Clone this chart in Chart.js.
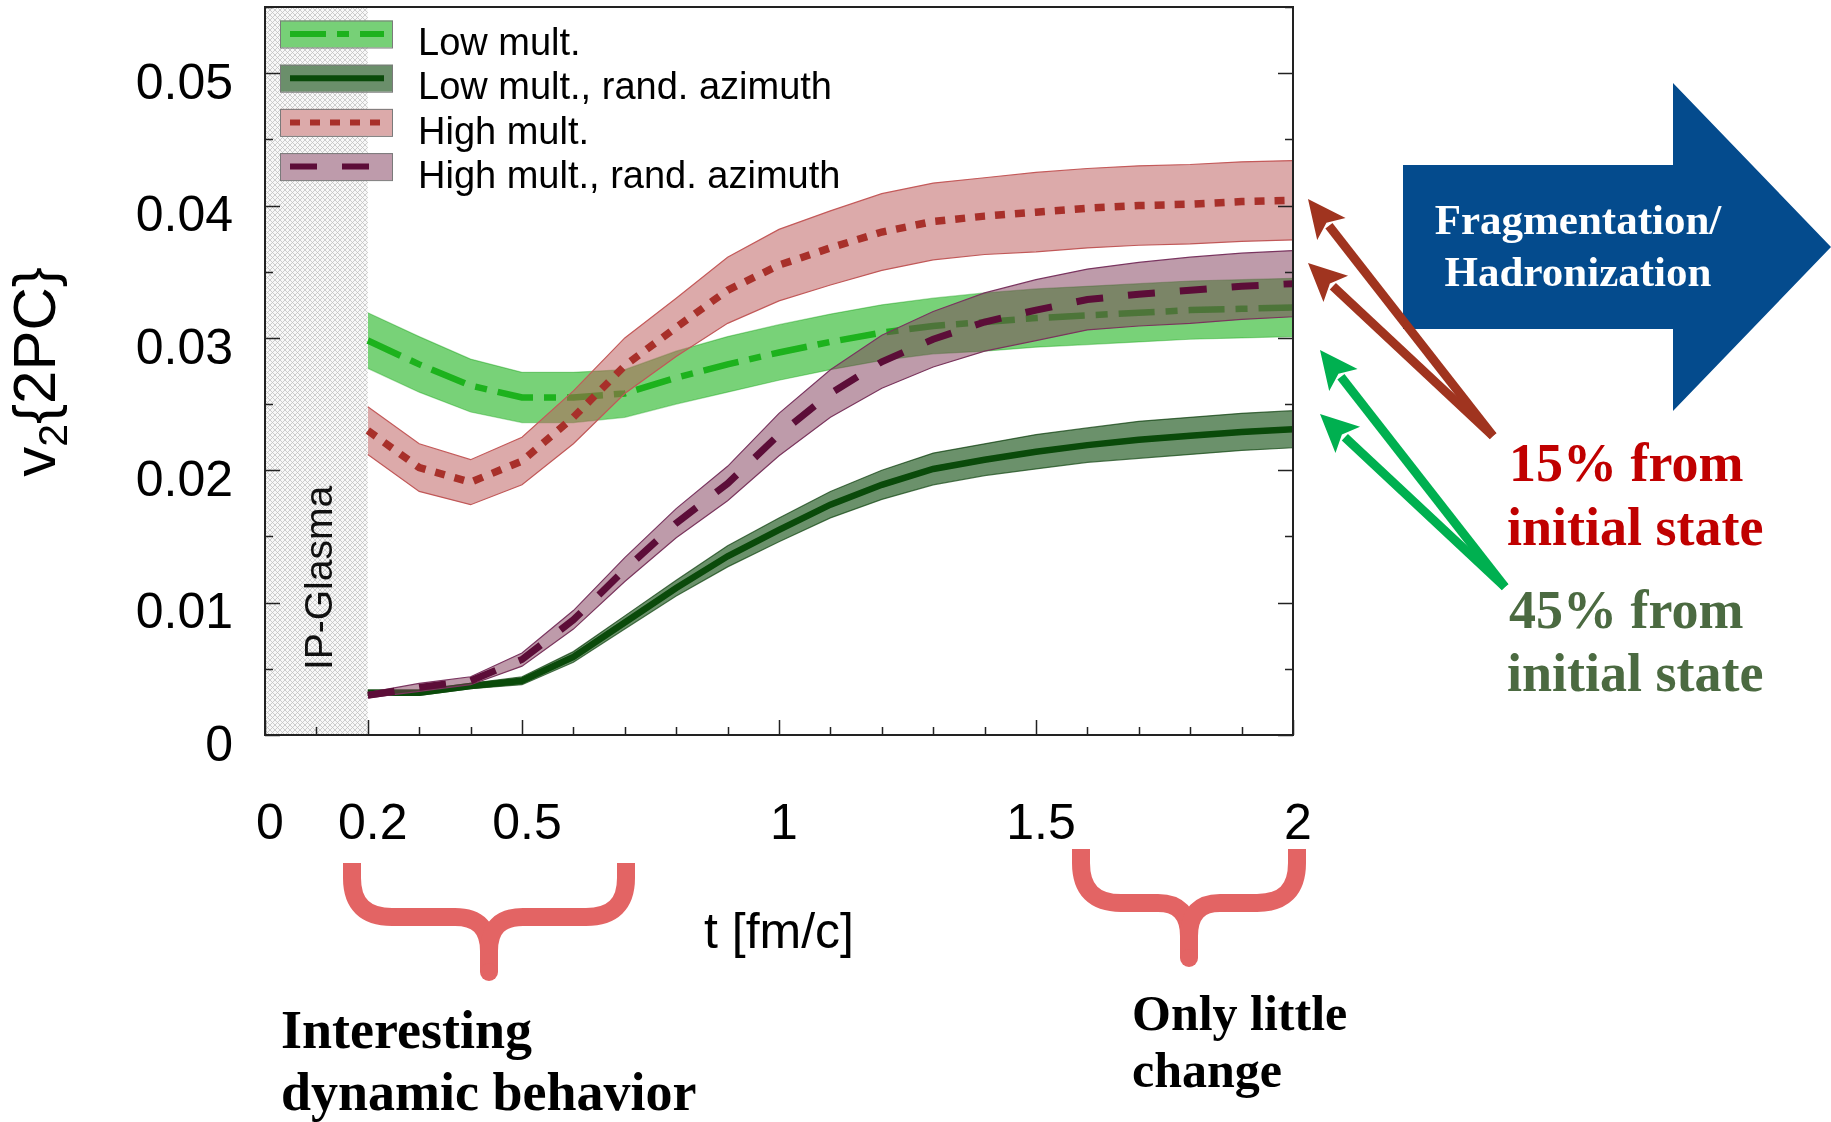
<!DOCTYPE html>
<html>
<head>
<meta charset="utf-8">
<title>v2{2PC} time evolution</title>
<script src="https://cdn.jsdelivr.net/npm/chart.js@4.4.1/dist/chart.umd.min.js"></script>
<style>
  body { margin: 0; background: #fff; }
  #wrap { position: relative; width: 1831px; height: 1122px; overflow: hidden; }
  #v2chart, #notes { position: absolute; left: 0; top: 0; }
  .serif { font-family: 'Liberation Serif', 'DejaVu Serif', serif; font-weight: bold; }
</style>
</head>
<body>
<div id="wrap">
  <canvas id="v2chart" width="1831" height="1122"></canvas>
  <svg id="notes" width="1831" height="1122">
    <!-- hadronization arrow -->
    <polygon points="1403,165 1673,165 1673,83 1831,247 1673,411 1673,329 1403,329" fill="#044b8d"/>
    <text class="serif" x="1578" y="234" text-anchor="middle" fill="#fff" font-size="43">Fragmentation/</text>
    <text class="serif" x="1578" y="286" text-anchor="middle" fill="#fff" font-size="43">Hadronization</text>

    <g id="pointers"></g>

    <text class="serif" x="1509" y="481" fill="#c00000" font-size="54">15% from</text>
    <text class="serif" x="1507" y="545" fill="#c00000" font-size="54">initial state</text>
    <text class="serif" x="1509" y="628" fill="#4b6a41" font-size="54">45% from</text>
    <text class="serif" x="1507" y="691" fill="#4b6a41" font-size="54">initial state</text>

    <!-- braces under the time axis -->
    <g fill="none" stroke="#e36464" stroke-width="18" stroke-linejoin="round">
      <path d="M352,863 L352,878 Q352,917 392,917 L455,917 Q489,917 489,951 L489,972"/>
      <path d="M626,863 L626,878 Q626,917 586,917 L523,917 Q489,917 489,951"/>
      <path d="M1081,849 L1081,863 Q1081,903 1121,903 L1158,903 Q1189,903 1189,936 L1189,958"/>
      <path d="M1297,849 L1297,863 Q1297,903 1257,903 L1220,903 Q1189,903 1189,936"/>
    </g>
    <circle cx="489" cy="972" r="9" fill="#e36464"/>
    <circle cx="1189" cy="958" r="9" fill="#e36464"/>

    <text class="serif" x="281" y="1048" fill="#000" font-size="54">Interesting</text>
    <text class="serif" x="281" y="1110" fill="#000" font-size="54">dynamic behavior</text>
    <text class="serif" x="1132" y="1030" fill="#000" font-size="50">Only little</text>
    <text class="serif" x="1132" y="1087" fill="#000" font-size="50">change</text>
  </svg>
</div>
<script>
// time after the collision, fm/c
const tValues = [0.2, 0.3, 0.4, 0.5, 0.6, 0.7, 0.8, 0.9, 1.0, 1.1, 1.2, 1.3, 1.4, 1.5, 1.6, 1.7, 1.8, 1.9, 2.0];

// v2{2PC} and half widths of the uncertainty bands
const lowMult = [0.0298, 0.0280, 0.0264, 0.0255, 0.0255, 0.0258, 0.0270, 0.0280, 0.0289, 0.0297, 0.0304, 0.0309, 0.0312, 0.0315, 0.0317, 0.0319, 0.0321, 0.0322, 0.0323];
const lowMultErr = [0.0021, 0.0021, 0.0020, 0.0019, 0.0019, 0.0018, 0.0020, 0.0021, 0.0021, 0.0021, 0.0021, 0.0021, 0.0022, 0.0022, 0.0022, 0.0022, 0.0022, 0.0022, 0.0022];

const lowMultRand = [0.0032, 0.0032, 0.0037, 0.0041, 0.0059, 0.0085, 0.0111, 0.0135, 0.0155, 0.0174, 0.0189, 0.0201, 0.0208, 0.0214, 0.0219, 0.0223, 0.0226, 0.0229, 0.0231];
const lowMultRandErr = [0.0002, 0.0002, 0.0002, 0.0003, 0.0004, 0.0005, 0.0006, 0.0008, 0.0009, 0.0010, 0.0011, 0.0012, 0.0012, 0.0013, 0.0013, 0.0014, 0.0014, 0.0014, 0.0014];

const highMult = [0.0230, 0.0202, 0.0191, 0.0207, 0.0240, 0.0279, 0.0308, 0.0336, 0.0355, 0.0368, 0.0380, 0.0388, 0.0392, 0.0395, 0.0398, 0.0400, 0.0401, 0.0403, 0.0404];
const highMultErr = [0.0018, 0.0018, 0.0017, 0.0018, 0.0020, 0.0021, 0.0022, 0.0025, 0.0027, 0.0028, 0.0029, 0.0029, 0.0029, 0.0030, 0.0030, 0.0030, 0.0030, 0.0030, 0.0030];

const highMultRand = [0.0030, 0.0036, 0.0041, 0.0057, 0.0087, 0.0125, 0.0160, 0.0190, 0.0227, 0.0258, 0.0282, 0.0299, 0.0312, 0.0321, 0.0329, 0.0333, 0.0336, 0.0339, 0.0341];
const highMultRandErr = [0.0002, 0.0003, 0.0003, 0.0005, 0.0007, 0.0009, 0.0011, 0.0013, 0.0016, 0.0018, 0.0020, 0.0021, 0.0022, 0.0023, 0.0023, 0.0024, 0.0025, 0.0025, 0.0025];

const xTickValues = [0, 0.2, 0.5, 1, 1.5, 2];
const yTickValues = [0, 0.01, 0.02, 0.03, 0.04, 0.05];
const glasmaEnd = 0.2;   // IP-Glasma stage, before the hydro curves start

const SANS = "'Liberation Sans', Arial, sans-serif";

// drawn bottom to top
const series = [
  { label: 'Low mult.', values: lowMult, err: lowMultErr, width: 6.5,
    line: '#1db21d', dash: [36, 11, 12, 11], band: 'rgba(0,170,0,0.53)', edge: 'rgba(0,150,0,0.35)', swatch: '#77d077' },
  { label: 'Low mult., rand. azimuth', values: lowMultRand, err: lowMultRandErr, width: 6.5,
    line: '#0a4a0a', dash: [], band: 'rgba(20,80,20,0.63)', edge: 'rgba(10,60,10,0.7)', swatch: '#6b8f6b' },
  { label: 'High mult.', values: highMult, err: highMultErr, width: 7.5,
    line: '#a8302a', dash: [10, 10], band: 'rgba(185,85,85,0.5)', edge: '#c45a5a', swatch: '#dcaaaa' },
  { label: 'High mult., rand. azimuth', values: highMultRand, err: highMultRandErr, width: 7,
    line: '#5c0d38', dash: [27, 25], band: 'rgba(125,55,85,0.5)', edge: '#7a3560', swatch: '#be9bab' }
];

const points = (vals, err, sign) => tValues.map((t, i) => ({ x: t, y: vals[i] + sign * err[i] }));

const datasets = [];
series.forEach((s, k) => {
  const rank = series.length - 1 - k;   // higher order is painted first
  datasets.push({ label: s.label, data: points(s.values, s.err, 0), borderColor: s.line, borderWidth: s.width,
    borderDash: s.dash, pointRadius: 0, fill: false, order: rank * 3 });
  datasets.push({ label: s.label + ' (upper)', data: points(s.values, s.err, 1), borderColor: s.edge, borderWidth: 1.2,
    backgroundColor: s.band, pointRadius: 0, fill: '+1', order: rank * 3 + 1 });
  datasets.push({ label: s.label + ' (lower)', data: points(s.values, s.err, -1), borderColor: s.edge, borderWidth: 1.2,
    pointRadius: 0, fill: false, order: rank * 3 + 2 });
});

function hatchPattern(ctx) {
  const c = document.createElement('canvas');
  c.width = c.height = 5;
  const g = c.getContext('2d');
  g.fillStyle = '#f8f8f8';
  g.fillRect(0, 0, 5, 5);
  g.strokeStyle = '#c2c2c2';
  g.lineWidth = 0.8;
  g.beginPath();
  g.moveTo(0, 0); g.lineTo(5, 5);
  g.moveTo(5, 0); g.lineTo(0, 5);
  g.stroke();
  return ctx.createPattern(c, 'repeat');
}

const decorations = {
  id: 'decorations',
  beforeDatasetsDraw(chart) {
    const { ctx, chartArea: a, scales: { x } } = chart;
    const x0 = x.getPixelForValue(0), x1 = x.getPixelForValue(glasmaEnd);
    ctx.save();
    ctx.fillStyle = hatchPattern(ctx);
    ctx.fillRect(x0, a.top, x1 - x0, a.bottom - a.top);
    ctx.restore();
  },
  afterDatasetsDraw(chart) {
    const { ctx, chartArea: a, scales: { x, y } } = chart;
    ctx.save();

    // inward tick marks, mirrored on the right
    ctx.strokeStyle = '#222';
    ctx.lineWidth = 1.5;
    ctx.beginPath();
    for (let i = 0; i <= 11; i++) {
      const v = i * 0.005, py = Math.round(y.getPixelForValue(v)) + 0.5;
      const len = i % 2 === 0 ? 15 : 8;
      ctx.moveTo(a.left, py); ctx.lineTo(a.left + len, py);
      ctx.moveTo(a.right, py); ctx.lineTo(a.right - len, py);
    }
    for (let i = 0; i <= 20; i++) {
      const v = i / 10, px = Math.round(x.getPixelForValue(v)) + 0.5;
      const len = xTickValues.some(t => Math.abs(t - v) < 1e-9) ? 15 : 8;
      ctx.moveTo(px, a.bottom); ctx.lineTo(px, a.bottom - len);
    }
    ctx.stroke();

    ctx.lineWidth = 2;
    ctx.strokeRect(a.left, a.top, a.right - a.left, a.bottom - a.top);

    // IP-Glasma label inside the hatched stage
    ctx.fillStyle = '#111';
    ctx.font = '39px ' + SANS;
    ctx.textAlign = 'center';
    ctx.textBaseline = 'alphabetic';
    ctx.translate(332, 578);
    ctx.rotate(-Math.PI / 2);
    ctx.fillText('IP-Glasma', 0, 0);
    ctx.restore();

    // legend: band swatch with the line style on top
    ctx.save();
    series.forEach((s, i) => {
      const top = 20.5 + i * 44.2, h = 27, cy = top + h / 2;
      ctx.fillStyle = s.swatch;
      ctx.fillRect(280, top, 113, h);
      ctx.strokeStyle = '#7a7a7a';
      ctx.lineWidth = 1;
      ctx.strokeRect(280.5, top + 0.5, 112, h);
      ctx.strokeStyle = s.line;
      ctx.lineWidth = 6;
      ctx.setLineDash(s.dash);
      ctx.beginPath();
      ctx.moveTo(290, cy); ctx.lineTo(384, cy);
      ctx.stroke();
      ctx.setLineDash([]);
      ctx.fillStyle = '#000';
      ctx.font = '38px ' + SANS;
      ctx.textAlign = 'left';
      ctx.textBaseline = 'alphabetic';
      ctx.fillText(s.label, 418, 55 + i * 44.4);
    });
    ctx.restore();

    // y title with subscript
    ctx.save();
    ctx.translate(55, 372);
    ctx.rotate(-Math.PI / 2);
    ctx.fillStyle = '#000';
    ctx.textBaseline = 'alphabetic';
    ctx.textAlign = 'left';
    const big = '60px ' + SANS, small = '41px ' + SANS;
    ctx.font = big;
    const wv = ctx.measureText('v').width, wb = ctx.measureText('{2PC}').width;
    ctx.font = small;
    const ws = ctx.measureText('2').width;
    const x0 = -(wv + ws + wb) / 2;
    ctx.font = big; ctx.fillText('v', x0, 0);
    ctx.font = small; ctx.fillText('2', x0 + wv, 12);
    ctx.font = big; ctx.fillText('{2PC}', x0 + wv + ws, 0);
    ctx.restore();
  }
};

new Chart(document.getElementById('v2chart'), {
  type: 'line',
  data: { datasets },
  options: {
    responsive: false,
    devicePixelRatio: 1,
    animation: false,
    layout: { padding: { left: 0, top: 7, right: 538, bottom: 0 } },
    plugins: { legend: { display: false }, tooltip: { enabled: false } },
    scales: {
      x: {
        type: 'linear', min: 0, max: 2,
        grid: { display: false, drawTicks: false },
        border: { display: false },
        afterBuildTicks: s => { s.ticks = xTickValues.map(v => ({ value: v })); },
        afterFit: s => { s.height = 387; s.paddingLeft = 0; s.paddingRight = 0; },
        ticks: {
          padding: 60, labelOffset: 5, color: '#000', maxRotation: 0, autoSkip: false,
          font: { family: SANS, size: 50 },
          callback: v => String(v)
        },
        title: { display: true, text: 't [fm/c]', color: '#000', font: { family: SANS, size: 50 },
          padding: { top: 0, bottom: 158 } }
      },
      y: {
        type: 'linear', min: 0, max: 0.055,
        grid: { display: false, drawTicks: false },
        border: { display: false },
        afterBuildTicks: s => { s.ticks = yTickValues.map(v => ({ value: v })); },
        afterFit: s => { s.width = 265; s.paddingTop = 0; s.paddingBottom = 0; },
        ticks: {
          padding: 32, labelOffset: 12, color: '#000', autoSkip: false,
          font: { family: SANS, size: 50 },
          callback: v => (v === 0 ? '0' : v.toFixed(2))
        }
      }
    }
  },
  plugins: [decorations]
});

// pointers from the fraction labels to the curve ends
(function () {
  const g = document.getElementById('pointers');
  const NS = 'http://www.w3.org/2000/svg';
  function pointer(x0, y0, x1, y1, color) {
    const dx = x1 - x0, dy = y1 - y0, len = Math.hypot(dx, dy);
    const ux = dx / len, uy = dy / len, hl = 38, hw = 18;
    const bx = x1 - ux * hl, by = y1 - uy * hl;
    const shaft = document.createElementNS(NS, 'line');
    shaft.setAttribute('x1', x0); shaft.setAttribute('y1', y0);
    shaft.setAttribute('x2', bx + ux * 4); shaft.setAttribute('y2', by + uy * 4);
    shaft.setAttribute('stroke', color); shaft.setAttribute('stroke-width', 9);
    g.appendChild(shaft);
    const head = document.createElementNS(NS, 'polygon');
    head.setAttribute('points', [x1, y1, bx - uy * hw, by + ux * hw, bx + ux * 8, by + uy * 8, bx + uy * hw, by - ux * hw].join(','));
    head.setAttribute('fill', color);
    g.appendChild(head);
  }
  pointer(1493, 436, 1308, 199, '#a0341f');
  pointer(1493, 436, 1308, 263, '#a0341f');
  pointer(1505, 587, 1320, 350, '#00b050');
  pointer(1505, 587, 1320, 414, '#00b050');
})();
</script>
</body>
</html>
